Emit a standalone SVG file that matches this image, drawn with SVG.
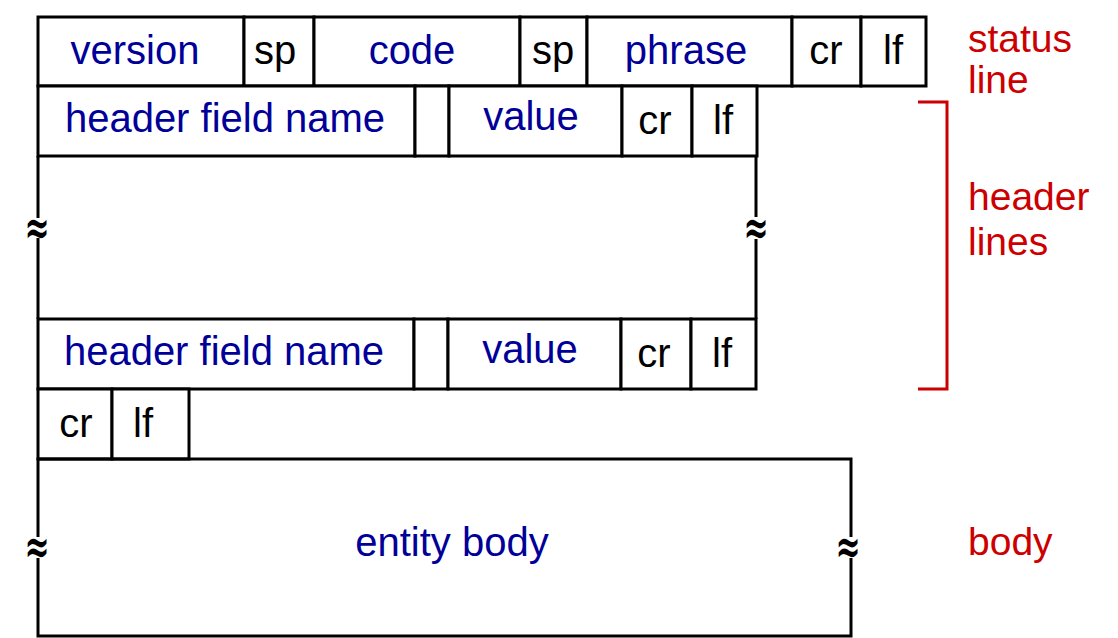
<svg xmlns="http://www.w3.org/2000/svg" width="1118" height="638" viewBox="0 0 1118 638">
<style>
.c{fill:#fff;stroke:#000;stroke-width:3}
.ln{fill:none;stroke:#000;stroke-width:3}
.b{font-family:"Liberation Sans",Arial,sans-serif;font-size:40px;fill:#000099;text-anchor:middle}
.k{font-family:"Liberation Sans",Arial,sans-serif;font-size:40px;fill:#000;text-anchor:middle}
.r{font-family:"Liberation Sans",Arial,sans-serif;font-size:39px;fill:#CC0000}
.w{font-family:"DejaVu Serif","Liberation Serif",serif;font-size:30px;font-weight:bold;fill:#000;text-anchor:middle}
</style>
<rect width="1118" height="638" fill="#fff"/>
<g id="status-line">
<rect class="c" x="38" y="17" width="206" height="69"/>
<rect class="c" x="244" y="17" width="70" height="69"/>
<rect class="c" x="314" y="17" width="206" height="69"/>
<rect class="c" x="520" y="17" width="67" height="69"/>
<rect class="c" x="587" y="17" width="205" height="69"/>
<rect class="c" x="792" y="17" width="69" height="69"/>
<rect class="c" x="861" y="17" width="65" height="69"/>
<text class="b" x="135" y="64">version</text>
<text class="k" x="275" y="64">sp</text>
<text class="b" x="412" y="64">code</text>
<text class="k" x="553" y="64">sp</text>
<text class="b" x="686" y="64">phrase</text>
<text class="k" x="826" y="64">cr</text>
<text class="k" x="893" y="64">lf</text>
</g>
<g id="header-line-1">
<rect class="c" x="38" y="86" width="377" height="70"/>
<rect class="c" x="415" y="86" width="34" height="70"/>
<rect class="c" x="449" y="86" width="173" height="70"/>
<rect class="c" x="622" y="86" width="70" height="70"/>
<rect class="c" x="692" y="86" width="65" height="70"/>
<text class="b" x="225" y="132">header field name</text>
<text class="b" x="531" y="130">value</text>
<text class="k" x="655" y="134">cr</text>
<text class="k" x="723" y="134">lf</text>
</g>
<g id="header-gap">
<path class="ln" d="M38,156 V218 M38,238 V319 M756,156 V217 M756,239 V319"/>
<text class="w" transform="translate(37,244) scale(1,1.6)">≈</text>
<text class="w" transform="translate(756,244) scale(1,1.6)">≈</text>
</g>
<g id="header-line-2">
<rect class="c" x="38" y="319" width="376" height="70"/>
<rect class="c" x="414" y="319" width="34" height="70"/>
<rect class="c" x="448" y="319" width="173" height="70"/>
<rect class="c" x="621" y="319" width="70" height="70"/>
<rect class="c" x="691" y="319" width="65" height="70"/>
<text class="b" x="224" y="365">header field name</text>
<text class="b" x="530" y="363">value</text>
<text class="k" x="654" y="367">cr</text>
<text class="k" x="722" y="367">lf</text>
</g>
<g id="blank-line">
<rect class="c" x="38" y="389" width="74" height="70"/>
<rect class="c" x="112" y="389" width="77" height="70"/>
<text class="k" x="76" y="437">cr</text>
<text class="k" x="143" y="437">lf</text>
</g>
<g id="entity-body">
<path class="ln" d="M38,537 V459 H851 V537 M851,558 V636 H38 V558"/>
<text class="w" transform="translate(37,563) scale(1,1.6)">≈</text>
<text class="w" transform="translate(848,563) scale(1,1.6)">≈</text>
<text class="b" x="452" y="556">entity body</text>
</g>
<g id="connectors">
<path d="M918,102 H947 V389 H918" fill="none" stroke="#CC0000" stroke-width="3"/>
</g>
<g id="labels">
<text class="r" x="968" y="52">status</text>
<text class="r" x="968" y="93">line</text>
<text class="r" x="968" y="210">header</text>
<text class="r" x="968" y="255">lines</text>
<text class="r" x="968" y="555">body</text>
</g>
</svg>
